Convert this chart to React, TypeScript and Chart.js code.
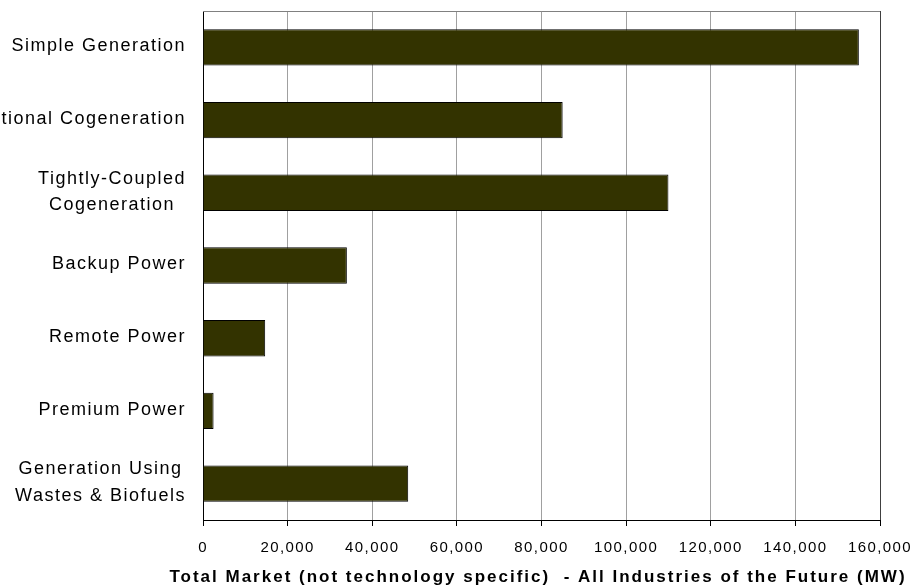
import React, { useEffect, useRef } from "react";
import { Chart, registerables } from "chart.js";

Chart.register(...registerables);

const categories: string[][] = [
  ["Simple Generation"],
  ["Traditional Cogeneration"],
  ["Tightly-Coupled", "Cogeneration"],
  ["Backup Power"],
  ["Remote Power"],
  ["Premium Power"],
  ["Generation Using", "Wastes & Biofuels"],
];
const marketMW: number[] = [155000, 85000, 110000, 34000, 14700, 2500, 48500];
const xMin = 0;
const xMax = 160000;
const xStep = 20000;
const xTitle =
  "Total Market (not technology specific)  - All Industries of the Future (MW)";

const FONT = "'Liberation Sans', Arial, sans-serif";

const decorPlugin = {
  id: "decor",
  beforeDraw(chart: any) {
    chart.ctx.letterSpacing = "1.4px";
  },
  beforeDatasetsDraw(chart: any) {
    const { ctx, chartArea } = chart;
    ctx.save();
    ctx.strokeStyle = "#808080";
    ctx.lineWidth = 1;
    ctx.beginPath();
    const y = Math.round(chartArea.top) + 0.5;
    ctx.moveTo(chartArea.left, y);
    ctx.lineTo(chartArea.right, y);
    ctx.stroke();
    ctx.restore();
  },
  afterDraw(chart: any) {
    const { ctx, chartArea } = chart;
    const yScale = chart.scales.y;
    ctx.save();
    // category labels
    ctx.font = `18px ${FONT}`;
    ctx.letterSpacing = "1.5px";
    ctx.fillStyle = "#000";
    ctx.textAlign = "center";
    ctx.textBaseline = "middle";
    const right = chartArea.left - 17;
    const lh = 26.5;
    categories.forEach((lines, i) => {
      const yc = yScale.getPixelForValue(i) - 1;
      const maxW = Math.max(...lines.map((l) => ctx.measureText(l).width));
      const cx = right - maxW / 2;
      lines.forEach((l, j) => {
        ctx.fillText(l, cx, yc + (j - (lines.length - 1) / 2) * lh);
      });
    });
    // axis title
    ctx.font = `bold 17px ${FONT}`;
    ctx.letterSpacing = "2px";
    ctx.fillText(xTitle, (chartArea.left + chartArea.right) / 2 - 3.5, chartArea.bottom + 57);
    ctx.restore();
  },
};

export default function App() {
  const ref = useRef<HTMLCanvasElement | null>(null);
  useEffect(() => {
    document.body.style.margin = "0";
    const canvas = ref.current;
    if (!canvas) return;
    const chart = new Chart(canvas, {
      type: "bar",
      data: {
        labels: categories.map((c) => c.join(" ")),
        datasets: [
          {
            data: marketMW,
            backgroundColor: "#333300",
            borderColor: "#000000",
            borderWidth: 1,
            barPercentage: 0.5,
            categoryPercentage: 1,
          },
        ],
      },
      options: {
        indexAxis: "y",
        animation: false,
        responsive: true,
        maintainAspectRatio: false,
        layout: { padding: { top: 11, right: 34, left: 0, bottom: 0 } },
        plugins: {
          legend: { display: false },
          tooltip: { enabled: false },
          title: { display: false },
        },
        scales: {
          x: {
            type: "linear",
            min: xMin,
            max: xMax,
            ticks: {
              stepSize: xStep,
              color: "#000",
              padding: 13,
              font: { family: FONT, size: 15 },
              callback: (v: any) => Number(v).toLocaleString("en-US"),
            },
            grid: {
              color: (c: any) =>
                c.tick && c.tick.value === xMax
                  ? "#404040"
                  : c.tick && c.tick.value === xMin
                  ? "#000"
                  : "#a0a0a0",
              lineWidth: 1,
              tickColor: "#000",
              tickLength: 6,
              drawTicks: true,
            },
            border: { display: true, color: "#000", width: 1 },
            afterFit: (s: any) => {
              s.height = 66;
              s.paddingLeft = 0;
              s.paddingRight = 0;
            },
          },
          y: {
            type: "category",
            ticks: { display: false },
            grid: { display: false, drawTicks: false },
            border: { display: true, color: "#000", width: 1 },
            afterFit: (s: any) => {
              s.width = 203;
              s.paddingTop = 0;
              s.paddingBottom = 0;
            },
          },
        },
      },
      plugins: [decorPlugin],
    });
    return () => chart.destroy();
  }, []);
  return (
    <div style={{ position: "relative", width: "914px", height: "586px" }}>
      <canvas ref={ref} />
    </div>
  );
}
